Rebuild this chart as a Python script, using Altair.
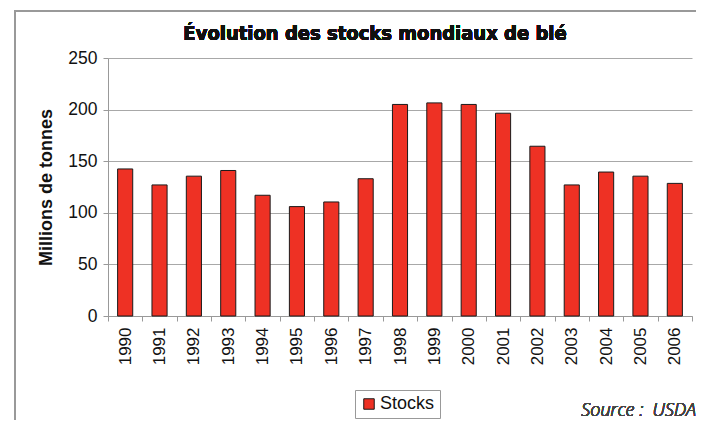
import altair as alt
import pandas as pd

years = ["1990", "1991", "1992", "1993", "1994", "1995", "1996", "1997", "1998",
         "1999", "2000", "2001", "2002", "2003", "2004", "2005", "2006"]
stocks = [142.5, 127, 135.5, 141, 117, 106, 110.5, 133, 205, 206.5, 205, 196.5,
          164.5, 127, 139.5, 135.5, 128.5]
series_name = "Stocks"
title_text = "Évolution des stocks mondiaux de blé"
y_title = "Millions de tonnes"
source_text = "Source :\u00a0\u00a0USDA"

df = pd.DataFrame({"annee": years, "stocks": stocks, "serie": [series_name] * len(years)})

W, H = 584, 258

base = alt.Chart(df)

bars = base.mark_bar(
    width=alt.RelativeBandSize(0.44), stroke="#1a1a1a", strokeWidth=1
).encode(
    x=alt.X("annee:O", sort=years,
            scale=alt.Scale(paddingInner=0, paddingOuter=0),
            axis=alt.Axis(title=None, labelAngle=-90, labelAlign="right",
                          labelBaseline="middle", labelFont="Liberation Sans",
                          labelFontSize=17, labelColor="#111", labelPadding=6,
                          tickBand="extent", tickSize=5, tickColor="#999",
                          domainColor="#999", grid=False)),
    y=alt.Y("stocks:Q", scale=alt.Scale(domain=[0, 250], nice=False),
            axis=alt.Axis(title=y_title, values=[0, 50, 100, 150, 200, 250],
                          titleFont="Liberation Sans", titleFontSize=18,
                          titleFontWeight="bold", titleColor="#111",
                          titlePadding=12,
                          labelFont="Liberation Sans", labelFontSize=17.5,
                          labelColor="#111", labelPadding=6,
                          tickSize=5, tickColor="#999", domainColor="#999",
                          gridColor="#a8a8a8", gridWidth=1)),
    color=alt.Color("serie:N",
                    scale=alt.Scale(domain=[series_name], range=["#ee3124"]),
                    legend=alt.Legend(title=None, orient="none",
                                      legendX=247, legendY=332,
                                      symbolType="square", symbolSize=110,
                                      symbolStrokeColor="#1a1a1a",
                                      symbolStrokeWidth=1, symbolOpacity=1,
                                      labelFont="Liberation Sans",
                                      labelFontSize=18, labelColor="#111",
                                      labelOffset=2,
                                      strokeColor="#999", fillColor="white",
                                      padding=5, cornerRadius=0)),
)

frame_top = base.mark_rule(stroke="#999", strokeWidth=2).encode(
    x=alt.value(-93), x2=alt.value(590), y=alt.value(-47)
)
frame_left = base.mark_rule(stroke="#999", strokeWidth=2).encode(
    x=alt.value(-93), y=alt.value(-48), y2=alt.value(380)
)

title = base.mark_text(
    font="DejaVu Sans Condensed, Roboto, sans-serif",
    fontSize=20, fontWeight="bold",
    color="#111", align="center", baseline="alphabetic"
).encode(x=alt.value(267), y=alt.value(-18), text=alt.value(title_text))

source = base.mark_text(
    font="Open Sans", fontSize=18, fontStyle="italic", fontWeight=300,
    color="#444", align="right", baseline="alphabetic"
).encode(x=alt.value(588), y=alt.value(358), text=alt.value(source_text))

chart = alt.layer(frame_top, frame_left, bars, title, source).properties(
    width=W, height=H,
    autosize=alt.AutoSizeParams(type="none"),
    padding={"left": 100, "top": 50, "right": 4, "bottom": 104},
    background="white",
).configure_view(stroke=None)

chart.save("out.html", embed_options={"renderer": "svg", "actions": False})
